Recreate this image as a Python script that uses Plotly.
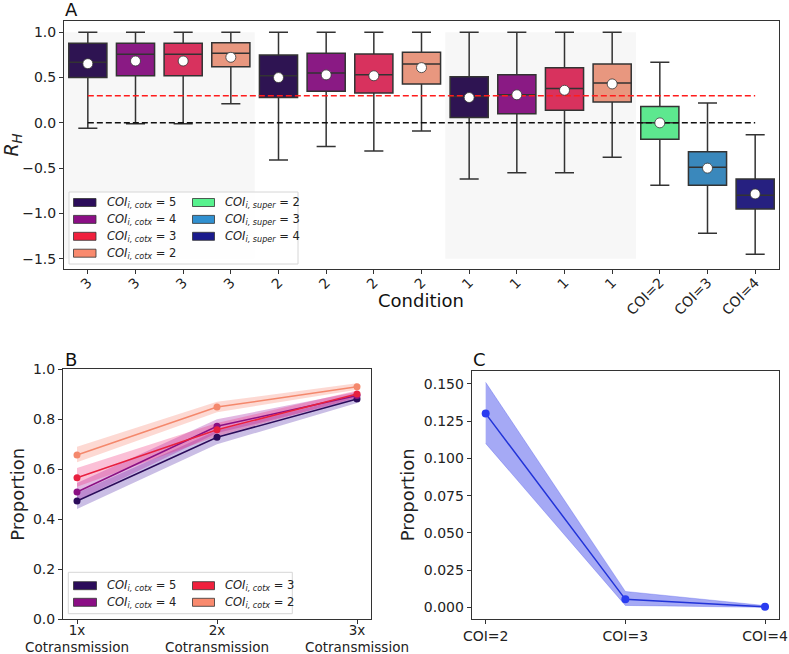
import plotly.graph_objects as go

# ---------------- Panel A data ----------------
cond_labels = ["3", "3", "3", "3", "2", "2", "2", "2", "1", "1", "1", "1", "COI=2", "COI=3", "COI=4"]
groups = ["cotx5", "cotx4", "cotx3", "cotx2"] * 3 + ["super2", "super3", "super4"]
q1 = [0.50, 0.52, 0.52, 0.62, 0.28, 0.35, 0.33, 0.43, 0.06, 0.10, 0.14, 0.23, -0.18, -0.69, -0.95]
median = [0.67, 0.757, 0.757, 0.77, 0.52, 0.55, 0.53, 0.65, 0.29, 0.31, 0.38, 0.44, 0.00, -0.49, -0.80]
q3 = [0.88, 0.88, 0.88, 0.885, 0.75, 0.77, 0.76, 0.78, 0.51, 0.53, 0.61, 0.65, 0.18, -0.32, -0.62]
lower = [-0.06, -0.01, -0.01, 0.21, -0.41, -0.26, -0.31, -0.09, -0.62, -0.55, -0.55, -0.38, -0.69, -1.22, -1.45]
upper = [1.0, 1.0, 1.0, 1.0, 1.0, 1.0, 1.0, 1.0, 1.0, 1.0, 1.0, 1.0, 0.67, 0.22, -0.13]
means = [0.654, 0.683, 0.683, 0.724, 0.50, 0.53, 0.52, 0.61, 0.28, 0.31, 0.36, 0.43, 0.00, -0.50, -0.785]
threshold_red = 0.3
threshold_black = 0.0

box_colors = {"cotx5": "#2e1452", "cotx4": "#8a1a84", "cotx3": "#d8325e", "cotx2": "#e8977f",
              "super2": "#5de88f", "super3": "#3a88bc", "super4": "#262080"}
legend_colors = {"cotx5": "#2b0c5a", "cotx4": "#8b0e85", "cotx3": "#f0203d", "cotx2": "#f98a6e",
                 "super2": "#57f28e", "super3": "#3090d0", "super4": "#1a1a8c"}
legend_labels = {
    "cotx5": "<i>COI</i><sub><i>i, cotx</i></sub> = 5",
    "cotx4": "<i>COI</i><sub><i>i, cotx</i></sub> = 4",
    "cotx3": "<i>COI</i><sub><i>i, cotx</i></sub> = 3",
    "cotx2": "<i>COI</i><sub><i>i, cotx</i></sub> = 2",
    "super2": "<i>COI</i><sub><i>i, super</i></sub> = 2",
    "super3": "<i>COI</i><sub><i>i, super</i></sub> = 3",
    "super4": "<i>COI</i><sub><i>i, super</i></sub> = 4",
}
legendA_columns = [["cotx5", "cotx4", "cotx3", "cotx2"], ["super2", "super3", "super4"]]
legendB_columns = [["cotx5", "cotx4"], ["cotx3", "cotx2"]]

# ---------------- Panel B data ----------------
b_ticks = ["1x<br>Cotransmission", "2x<br>Cotransmission", "3x<br>Cotransmission"]
b_series = ["cotx5", "cotx4", "cotx3", "cotx2"]
b_mean = {"cotx5": [0.473, 0.728, 0.881], "cotx4": [0.509, 0.772, 0.895],
          "cotx3": [0.566, 0.758, 0.901], "cotx2": [0.657, 0.849, 0.930]}
b_low = {"cotx5": [0.441, 0.700, 0.865], "cotx4": [0.475, 0.745, 0.880],
         "cotx3": [0.530, 0.732, 0.887], "cotx2": [0.628, 0.828, 0.918]}
b_high = {"cotx5": [0.505, 0.755, 0.896], "cotx4": [0.545, 0.800, 0.910],
          "cotx3": [0.605, 0.785, 0.915], "cotx2": [0.690, 0.870, 0.944]}
b_line_colors = {"cotx5": "#2b0c5a", "cotx4": "#8b1083", "cotx3": "#e8203f", "cotx2": "#f4886c"}
b_band_colors = {"cotx5": "rgba(80,40,170,0.30)", "cotx4": "rgba(160,20,160,0.30)",
                 "cotx3": "rgba(240,30,110,0.28)", "cotx2": "rgba(248,130,110,0.30)"}

# ---------------- Panel C data ----------------
c_ticks = ["COI=2", "COI=3", "COI=4"]
c_mean = [0.130, 0.0054, 0.0004]
c_low = [0.110, 0.0013, 0.0]
c_high = [0.151, 0.0107, 0.0012]

FONT = "DejaVu Sans"
W, H = 789, 654
fig = go.Figure()

def px_x(p):
    return p / W

def px_y(p):
    return 1 - p / H

# ---- Panel A ----
positions = list(range(len(cond_labels)))
for i, g in enumerate(groups):
    fig.add_trace(go.Box(
        x=[positions[i]], q1=[q1[i]], median=[median[i]], q3=[q3[i]],
        lowerfence=[lower[i]], upperfence=[upper[i]],
        width=0.8, whiskerwidth=0.5, fillcolor=box_colors[g],
        line=dict(color="#333333", width=1.5), boxpoints=False,
        showlegend=False, xaxis="x", yaxis="y", hoverinfo="skip"))

fig.add_trace(go.Scatter(x=[positions[0], positions[-1]], y=[threshold_red] * 2, mode="lines",
                         line=dict(color="#ff1c1c", width=1.5, dash="6px,3px"),
                         showlegend=False, xaxis="x", yaxis="y"))
fig.add_trace(go.Scatter(x=[positions[0], positions[-1]], y=[threshold_black] * 2, mode="lines",
                         line=dict(color="#111111", width=1.5, dash="6px,3px"),
                         showlegend=False, xaxis="x", yaxis="y"))
fig.add_trace(go.Scatter(x=positions, y=means, mode="markers",
                         marker=dict(color="white", size=10, line=dict(color="#333333", width=0.8)),
                         showlegend=False, xaxis="x", yaxis="y"))

# ---- Panel B ----
bx = list(range(len(b_ticks)))
for s in b_series:
    fig.add_trace(go.Scatter(x=bx, y=b_high[s], mode="lines", line=dict(width=0, color=b_line_colors[s]),
                             showlegend=False, xaxis="x2", yaxis="y2", hoverinfo="skip"))
    fig.add_trace(go.Scatter(x=bx, y=b_low[s], mode="lines", line=dict(width=0, color=b_line_colors[s]),
                             fill="tonexty", fillcolor=b_band_colors[s],
                             showlegend=False, xaxis="x2", yaxis="y2", hoverinfo="skip"))
for s in b_series:
    fig.add_trace(go.Scatter(x=bx, y=b_mean[s], mode="lines+markers",
                             line=dict(color=b_line_colors[s], width=1.5),
                             marker=dict(color=b_line_colors[s], size=7),
                             showlegend=False, xaxis="x2", yaxis="y2"))

# ---- Panel C ----
cx = list(range(len(c_ticks)))
fig.add_trace(go.Scatter(x=cx, y=c_high, mode="lines", line=dict(width=0.5, color="rgba(40,50,230,0.5)"),
                         showlegend=False, xaxis="x3", yaxis="y3", hoverinfo="skip"))
fig.add_trace(go.Scatter(x=cx, y=c_low, mode="lines", line=dict(width=0.5, color="rgba(40,50,230,0.5)"),
                         fill="tonexty", fillcolor="rgba(40,50,230,0.42)",
                         showlegend=False, xaxis="x3", yaxis="y3", hoverinfo="skip"))
fig.add_trace(go.Scatter(x=cx, y=c_mean, mode="lines+markers",
                         line=dict(color="#2234d8", width=1.5),
                         marker=dict(color="#2a3cf0", size=8),
                         showlegend=False, xaxis="x3", yaxis="y3"))

axis_common = dict(showline=True, mirror=True, linecolor="#333333", linewidth=1,
                   ticks="outside", ticklen=4, tickcolor="#333333", tickwidth=1,
                   showgrid=False, zeroline=False, automargin=False)
tf = dict(family=FONT, size=14, color="#222222")

# ---- legends (drawn as framed swatches + text) ----
shapes = [
    dict(type="rect", xref="x", yref="y", x0=-0.5, x1=3.5, y0=-1.5, y1=1.0,
         fillcolor="#f7f7f7", line=dict(width=0), layer="below"),
    dict(type="rect", xref="x", yref="y", x0=7.5, x1=11.5, y0=-1.5, y1=1.0,
         fillcolor="#f7f7f7", line=dict(width=0), layer="below"),
    dict(type="rect", xref="paper", yref="paper", x0=px_x(69), x1=px_x(298), y0=px_y(264), y1=px_y(192),
         fillcolor="rgba(255,255,255,0.85)", line=dict(color="#d6d6d6", width=1), layer="above"),
    dict(type="rect", xref="paper", yref="paper", x0=px_x(68.3), x1=px_x(292.3), y0=px_y(613.7), y1=px_y(572.3),
         fillcolor="rgba(255,255,255,0.85)", line=dict(color="#d6d6d6", width=1), layer="above"),
]
annotations = []

def add_legend(columns, col_x, row0, row_step):
    for cols, (sx0, sx1, tx) in zip(columns, col_x):
        for r, key in enumerate(cols):
            yc = row0 + r * row_step
            shapes.append(dict(type="rect", xref="paper", yref="paper",
                               x0=px_x(sx0), x1=px_x(sx1), y0=px_y(yc + 4), y1=px_y(yc - 4),
                               fillcolor=legend_colors[key], line=dict(color="#333333", width=0.8),
                               layer="above"))
            annotations.append(dict(text=legend_labels[key], xref="paper", yref="paper",
                                    x=px_x(tx), y=px_y(yc), xanchor="left", yanchor="middle",
                                    showarrow=False, font=dict(family=FONT, size=11.5, color="#222222")))

add_legend(legendA_columns, [(73.5, 96, 104.5), (192.5, 214.5, 223)], 202.5, 16.9)
add_legend(legendB_columns, [(73.5, 96.5, 104.5), (192.5, 214.5, 222.5)], 585.7, 16.6)

annotations += [
    dict(text="A", xref="paper", yref="paper", x=px_x(63), y=px_y(10), xanchor="left", yanchor="middle",
         showarrow=False, font=dict(family=FONT, size=18, color="#111111")),
    dict(text="B", xref="paper", yref="paper", x=px_x(63), y=px_y(359), xanchor="left", yanchor="middle",
         showarrow=False, font=dict(family=FONT, size=18, color="#111111")),
    dict(text="C", xref="paper", yref="paper", x=px_x(471), y=px_y(359), xanchor="left", yanchor="middle",
         showarrow=False, font=dict(family=FONT, size=18, color="#111111")),
    dict(text="Condition", xref="paper", yref="paper", x=px_x(421.5), y=px_y(300), xanchor="center",
         yanchor="middle", showarrow=False, font=dict(family=FONT, size=18, color="#111111")),
]

fig.update_layout(
    template="none",
    width=W, height=H,
    margin=dict(l=0, r=0, t=0, b=0, autoexpand=False),
    paper_bgcolor="white", plot_bgcolor="white",
    font=dict(family=FONT, color="#222222"),
    boxmode="overlay",
    showlegend=False,
    xaxis=dict(domain=[px_x(64), px_x(779)], anchor="y", range=[-0.5, 14.5],
               tickmode="array", tickvals=positions, ticktext=cond_labels, tickangle=-45,
               ticklabelstandoff=-5, tickfont=tf, **axis_common),
    yaxis=dict(domain=[px_y(269), px_y(21)], anchor="x", range=[-1.614, 1.125],
               tickmode="array", tickvals=[-1.5, -1.0, -0.5, 0.0, 0.5, 1.0], tickformat=".1f",
               title=dict(text="<i>R</i><sub><i>H</i></sub>", font=dict(family=FONT, size=19), standoff=8),
               tickfont=tf, **axis_common),
    xaxis2=dict(domain=[px_x(63), px_x(371)], anchor="y2", range=[-0.1, 2.1],
                tickmode="array", tickvals=bx, ticktext=b_ticks, ticklabelstandoff=-6,
                tickfont=dict(family=FONT, size=13.5, color="#222222"), **axis_common),
    yaxis2=dict(domain=[px_y(619.3), px_y(369.3)], anchor="x2", range=[0, 1],
                tickmode="array", tickvals=[0, 0.2, 0.4, 0.6, 0.8, 1.0], tickformat=".1f",
                title=dict(text="Proportion", font=dict(family=FONT, size=18), standoff=3),
                tickfont=tf, **axis_common),
    xaxis3=dict(domain=[px_x(471.7), px_x(779)], anchor="y3", range=[-0.1, 2.1],
                tickmode="array", tickvals=cx, ticktext=c_ticks, tickfont=tf, **axis_common),
    yaxis3=dict(domain=[px_y(618.7), px_y(371)], anchor="x3", range=[-0.0076, 0.1586],
                tickmode="array", tickvals=[0, 0.025, 0.05, 0.075, 0.1, 0.125, 0.15], tickformat=".3f",
                title=dict(text="Proportion", font=dict(family=FONT, size=18), standoff=4),
                tickfont=tf, **axis_common),
    shapes=shapes,
    annotations=annotations,
)

fig.write_html("out.html", post_script="document.body.style.margin='0px';",
               config={"displayModeBar": False})
